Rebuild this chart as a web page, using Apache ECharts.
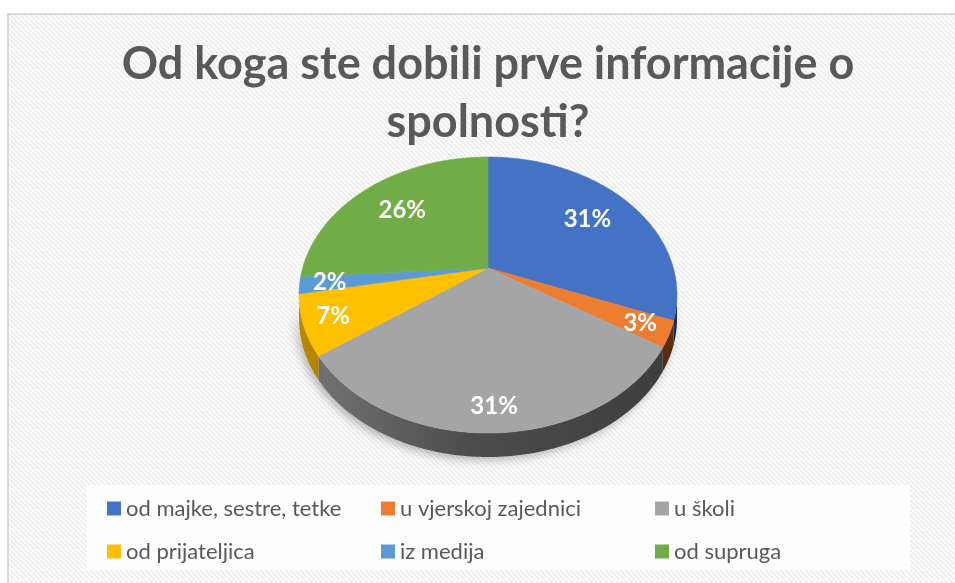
<!DOCTYPE html>
<html>
<head>
<meta charset="utf-8">
<script src="https://cdn.jsdelivr.net/npm/echarts@6/dist/echarts.min.js"></script>
<style>
  html, body { margin: 0; padding: 0; background: #fff; }
  #chart { width: 955px; height: 583px; }
</style>
</head>
<body>
<div id="chart"></div>
<script>
// podaci
var categories = ['od majke, sestre, tetke', 'u vjerskoj zajednici', 'u školi', 'od prijateljica', 'iz medija', 'od supruga'];
var values = [31, 3, 31, 7, 2, 26];
var colors = ['#4472C4', '#ED7D31', '#A5A5A5', '#FFC000', '#5B9BD5', '#70AD47'];
var titleText = 'Od koga ste dobili prve informacije o\nspolnosti?';

// geometrija "3D" pite (perspektiva)
var CX = 488, CY = 268, RA = 185.3, RB = 132.7, K = -0.1957, DEPTH = 24;

var total = 0;
var starts = [];
for (var i = 0; i < values.length; i++) {
    starts.push(total);
    total += values[i];
}

function proj(u, v) {
    var d = 1 + K * v;
    return [CX + RA * u / d, CY + RB * v / d];
}

function arc(a, b, dy) {
    var pts = [];
    var n = Math.max(2, Math.ceil(Math.abs(b - a) / (Math.PI / 180)));
    for (var j = 0; j <= n; j++) {
        var t = a + (b - a) * j / n;
        var p = proj(Math.cos(t), Math.sin(t));
        pts.push([p[0], p[1] + dy]);
    }
    return pts;
}

function shade(hex, f) {
    var r = parseInt(hex.substr(1, 2), 16), g = parseInt(hex.substr(3, 2), 16), b = parseInt(hex.substr(5, 2), 16);
    return 'rgb(' + Math.round(r * f) + ',' + Math.round(g * f) + ',' + Math.round(b * f) + ')';
}

var frontA = Math.asin(-K), frontB = Math.PI - Math.asin(-K);

function makeRender(idx) {
    return function (params, api) {
        var val = api.value(0);
        var a1 = -Math.PI / 2 + starts[idx] / total * Math.PI * 2;
        var a2 = a1 + val / total * Math.PI * 2;
        var col = colors[idx];
        var children = [];

        // bočna strana
        var s = Math.max(a1, frontA), e = Math.min(a2, frontB);
        if (e > s) {
            var top = arc(s, e, 0);
            var bot = arc(e, s, DEPTH);
            children.push({
                type: 'polygon',
                z2: 1,
                shape: { points: top.concat(bot) },
                style: {
                    fill: {
                        type: 'linear', x: CX - RA * 1.02, y: 0, x2: CX + RA * 1.02, y2: 0, global: true,
                        colorStops: [
                            { offset: 0, color: shade(col, 0.72) },
                            { offset: 0.45, color: shade(col, 0.46) },
                            { offset: 1, color: shade(col, 0.37) }
                        ]
                    },
                    shadowBlur: 10,
                    shadowColor: 'rgba(0,0,0,0.28)',
                    shadowOffsetX: -3,
                    shadowOffsetY: 3
                }
            });
        }

        // gornja strana
        var c = proj(0, 0);
        children.push({
            type: 'polygon',
            z2: 5,
            shape: { points: [c].concat(arc(a1, a2, 0)) },
            style: { fill: col, stroke: col, lineWidth: 0.6 }
        });

        // oznaka
        var m = (a1 + a2) / 2;
        var edge = proj(Math.cos(m), Math.sin(m));
        var f = Math.sin(m) < 0 ? 0.72 : 0.84;
        children.push({
            type: 'text',
            z2: 10,
            style: {
                text: Math.round(val / total * 100) + '%',
                x: c[0] + (edge[0] - c[0]) * f,
                y: c[1] + (edge[1] - c[1]) * f,
                fill: '#ffffff',
                font: 'bold 24px Lato',
                align: 'center',
                verticalAlign: 'middle'
            }
        });

        return { type: 'group', children: children };
    };
}

// pozadina s dijagonalnim linijama
var pat = document.createElement('canvas');
pat.width = 10;
pat.height = 10;
var g = pat.getContext('2d');
g.fillStyle = '#ffffff';
g.fillRect(0, 0, 10, 10);
g.strokeStyle = '#eeeeee';
g.lineWidth = 2;
for (var k = -10; k <= 10; k += 5) {
    g.beginPath();
    g.moveTo(k, 0);
    g.lineTo(k + 10, 10);
    g.stroke();
}

var series = [];
for (var i = 0; i < categories.length; i++) {
    series.push({
        name: categories[i],
        type: 'custom',
        coordinateSystem: 'none',
        silent: true,
        itemStyle: { color: colors[i] },
        data: [[values[i]]],
        renderItem: makeRender(i)
    });
}

var myChart = echarts.init(document.getElementById('chart'));
myChart.setOption({
    animation: false,
    backgroundColor: '#ffffff',
    graphic: [
        {
            type: 'rect', z: -10, silent: true,
            shape: { x: 8, y: 14, width: 960, height: 590 },
            style: { fill: { image: pat, repeat: 'repeat' }, stroke: '#d9d9d9', lineWidth: 2 }
        },
        {
            type: 'rect', z: -9, silent: true,
            shape: { x: 87, y: 485, width: 823, height: 85 },
            style: { fill: 'rgba(255,255,255,0.85)' }
        }
    ],
    title: {
        text: titleText,
        left: 488,
        top: 35,
        padding: 0,
        textAlign: 'center',
        textStyle: {
            fontFamily: 'Lato',
            fontWeight: 'bold',
            fontSize: 45,
            lineHeight: 58,
            color: '#595959'
        }
    },
    legend: {
        left: 107,
        top: 492,
        width: 830,
        padding: 0,
        itemWidth: 14,
        itemHeight: 14,
        itemGap: 10,
        icon: 'rect',
        selectedMode: false,
        textStyle: {
            fontFamily: 'Lato',
            fontSize: 22,
            color: '#595959',
            width: 245,
            lineHeight: 33
        },
        data: categories
    },
    series: series
});
</script>
</body>
</html>
